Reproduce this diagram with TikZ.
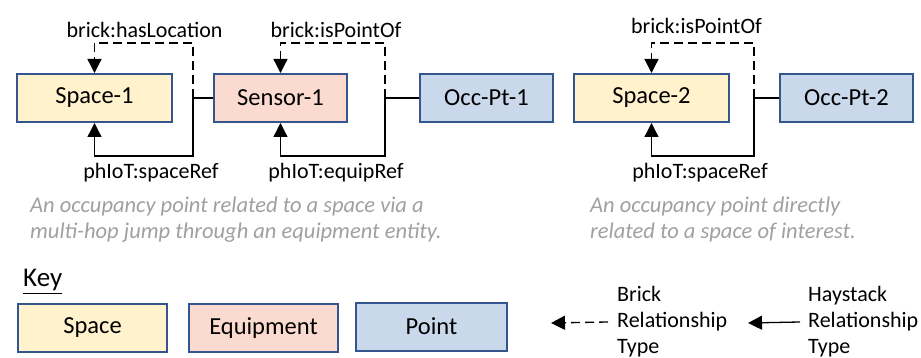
\documentclass[tikz,border=0pt]{standalone}
\usepackage{fontspec}
\setmainfont{Carlito}
\usetikzlibrary{arrows.meta}

\definecolor{spacefill}{HTML}{FFF2CC}
\definecolor{equipfill}{HTML}{FBDBD0}
\definecolor{pointfill}{HTML}{CAD8EC}
\definecolor{boxline}{HTML}{35558F}
\definecolor{notegray}{HTML}{A0A0A0}

\tikzset{
	entity/.style={draw=boxline, line width=2pt, minimum height=48pt, inner sep=0pt, font=\fontsize{24.5}{28}\selectfont},
	spacebox/.style={entity, fill=spacefill, minimum width=155pt},
	equipbox/.style={entity, fill=equipfill, minimum width=133pt},
	pointbox/.style={entity, fill=pointfill, minimum width=133pt},
	relname/.style={font=\fontsize{22}{26}\selectfont, inner sep=0pt},
	link/.style={line width=1.3pt},
	brickrel/.style={link, dash pattern=on 9pt off 5pt, -{Triangle[width=14pt,length=14pt]}},
	haystackrel/.style={link, -{Triangle[width=14pt,length=14pt]}},
	note/.style={font=\fontsize{22.5}{26}\selectfont\itshape, text=notegray, inner sep=0pt, anchor=base west},
	legendtext/.style={font=\fontsize{22}{26}\selectfont, align=left, anchor=west, inner sep=0pt}
}

\begin{document}
\begin{tikzpicture}[x=1pt,y=-1pt]
	\useasboundingbox (0,0) rectangle (921,358);
	% top row
	\node[spacebox] (space1) at (94.5,98) {Space-1};
	\node[equipbox] (sensor1) at (280.5,98) {Sensor-1};
	\node[pointbox] (occ1) at (486.5,98) {Occ-Pt-1};
	\node[spacebox] (space2) at (651.5,98) {Space-2};
	\node[pointbox] (occ2) at (846.5,98) {Occ-Pt-2};
	\coordinate (hop1) at (193,98);
	\coordinate (hop2) at (385,98);
	\coordinate (hop3) at (754,98);
	\draw[link] (sensor1.west) -- (hop1);
	\draw[brickrel] (hop1) -- ++(0,-55) -| (space1.north);
	\draw[haystackrel] (hop1) -- ++(0,58) -| (space1.south);
	\draw[link] (occ1.west) -- (hop2);
	\draw[brickrel] (hop2) -- ++(0,-55) -| (sensor1.north);
	\draw[haystackrel] (hop2) -- ++(0,58) -| (sensor1.south);
	\draw[link] (occ2.west) -- (hop3);
	\draw[brickrel] (hop3) -- ++(0,-55) -| (space2.north);
	\draw[haystackrel] (hop3) -- ++(0,58) -| (space2.south);
	\node[relname] (haslocation) at (144.5,30) {brick:hasLocation};
	\node[relname] (spaceref1) at (151,173) {phIoT:spaceRef};
	\node[relname] (ispointof1) at (336,30) {brick:isPointOf};
	\node[relname] (equipref) at (336,173) {phIoT:equipRef};
	\node[relname] (ispointof2) at (696.5,26) {brick:isPointOf};
	\node[relname] (spaceref2) at (700,173) {phIoT:spaceRef};
	% notes
	\node[note] (multihopa) at (30,213) {An occupancy point related to a space via a};
	\node[note] (multihopb) at (30,239) {multi-hop jump through an equipment entity.};
	\node[note] (directa) at (590,213) {An occupancy point directly};
	\node[note] (directb) at (590,239) {related to a space of interest.};
	% key
	\node[font=\fontsize{27}{30}\selectfont, anchor=base west, inner sep=0pt] (keytitle) at (23,287) {\underline{Key}};
	\node[spacebox, minimum width=149pt] (keyspace) at (92.5,328) {Space};
	\node[equipbox, minimum width=149pt] (keyequip) at (263.5,328) {Equipment};
	\node[pointbox, minimum width=151pt] (keypoint) at (431.5,326.5) {Point};
	\node[legendtext] (brickkey) at (617,322) {Brick\\Relationship\\Type};
	\node[legendtext] (haystackkey) at (808,322) {Haystack\\Relationship\\Type};
	\coordinate (brickend) at (551,323);
	\coordinate (haystackend) at (748,323);
	\draw[brickrel] ([xshift=-9pt]brickkey.west) -- (brickend);
	\draw[haystackrel] ([xshift=-8pt]haystackkey.west) -- (haystackend);
\end{tikzpicture}
\end{document}
